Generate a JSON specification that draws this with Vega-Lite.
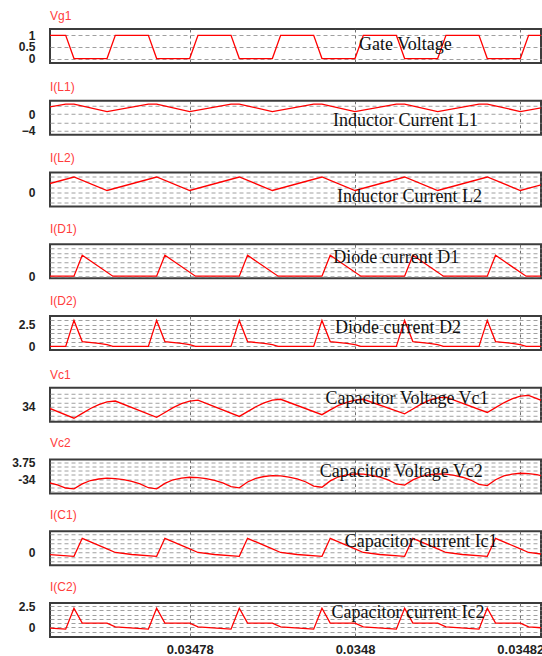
{
  "$schema": "https://vega.github.io/schema/vega-lite/v6.json",
  "background": "#ffffff",
  "padding": {"left": 10, "top": 9, "right": 0, "bottom": 0},
  "bounds": "flush",
  "spacing": 37.75,
  "config": {
    "view": {"stroke": "#3c3c3c", "strokeWidth": 2},
    "title": {"anchor": "start", "frame": "group", "font": "Liberation Sans", "fontSize": 12, "fontWeight": "normal", "color": "#ff3c3c", "offset": 6},
    "axis": {"labelFont": "Liberation Sans", "labelFontSize": 13, "labelFontWeight": "bold", "labelColor": "#222222", "ticks": false, "tickSize": 0, "domain": false, "title": null, "format": "~g", "labelOverlap": false},
    "axisX": {"gridDash": [3, 3], "gridColor": "#6e6e6e", "gridWidth": 1, "labelPadding": 6, "labelFlush": false},
    "axisY": {"gridDash": [4, 3], "gridColor": "#a0a0a0", "gridWidth": 1, "labelPadding": 15, "labelFontSize": 12},
    "text": {"font": "Liberation Serif", "fontSize": 18, "color": "#111111", "align": "center", "baseline": "alphabetic"}
  },
  "datasets": {
    "wave": [
      {"s":"Vg1","t":0.03476,"v":0},{"s":"Vg1","t":0.034761,"v":1},{"s":"Vg1","t":0.034765,"v":1},{"s":"Vg1","t":0.034766,"v":0},
      {"s":"Vg1","t":0.03477,"v":0},{"s":"Vg1","t":0.034771,"v":1},{"s":"Vg1","t":0.034775,"v":1},{"s":"Vg1","t":0.034776,"v":0},
      {"s":"Vg1","t":0.03478,"v":0},{"s":"Vg1","t":0.034781,"v":1},{"s":"Vg1","t":0.034785,"v":1},{"s":"Vg1","t":0.034786,"v":0},
      {"s":"Vg1","t":0.03479,"v":0},{"s":"Vg1","t":0.034791,"v":1},{"s":"Vg1","t":0.034795,"v":1},{"s":"Vg1","t":0.034796,"v":0},
      {"s":"Vg1","t":0.0348,"v":0},{"s":"Vg1","t":0.034801,"v":1},{"s":"Vg1","t":0.034805,"v":1},{"s":"Vg1","t":0.034806,"v":0},
      {"s":"Vg1","t":0.03481,"v":0},{"s":"Vg1","t":0.034811,"v":1},{"s":"Vg1","t":0.034815,"v":1},{"s":"Vg1","t":0.034816,"v":0},
      {"s":"Vg1","t":0.03482,"v":0},{"s":"Vg1","t":0.034821,"v":1},{"s":"Vg1","t":0.034825,"v":1},{"s":"Vg1","t":0.034826,"v":0},
      {"s":"Vg1","t":0.03483,"v":0},

      {"s":"IL1","t":0.03476,"v":0.6},{"s":"IL1","t":0.034765,"v":2.4},{"s":"IL1","t":0.034766,"v":2.4},
      {"s":"IL1","t":0.03477,"v":0.6},{"s":"IL1","t":0.034775,"v":2.4},{"s":"IL1","t":0.034776,"v":2.4},
      {"s":"IL1","t":0.03478,"v":0.6},{"s":"IL1","t":0.034785,"v":2.4},{"s":"IL1","t":0.034786,"v":2.4},
      {"s":"IL1","t":0.03479,"v":0.6},{"s":"IL1","t":0.034795,"v":2.4},{"s":"IL1","t":0.034796,"v":2.4},
      {"s":"IL1","t":0.0348,"v":0.6},{"s":"IL1","t":0.034805,"v":2.4},{"s":"IL1","t":0.034806,"v":2.4},
      {"s":"IL1","t":0.03481,"v":0.6},{"s":"IL1","t":0.034815,"v":2.4},{"s":"IL1","t":0.034816,"v":2.4},
      {"s":"IL1","t":0.03482,"v":0.6},{"s":"IL1","t":0.034825,"v":2.4},{"s":"IL1","t":0.034826,"v":2.4},
      {"s":"IL1","t":0.03483,"v":0.6},

      {"s":"IL2","t":0.03476,"v":0.3},{"s":"IL2","t":0.034766,"v":3.0},
      {"s":"IL2","t":0.03477,"v":0.3},{"s":"IL2","t":0.034776,"v":3.0},
      {"s":"IL2","t":0.03478,"v":0.3},{"s":"IL2","t":0.034786,"v":3.0},
      {"s":"IL2","t":0.03479,"v":0.3},{"s":"IL2","t":0.034796,"v":3.0},
      {"s":"IL2","t":0.0348,"v":0.3},{"s":"IL2","t":0.034806,"v":3.0},
      {"s":"IL2","t":0.03481,"v":0.3},{"s":"IL2","t":0.034816,"v":3.0},
      {"s":"IL2","t":0.03482,"v":0.3},{"s":"IL2","t":0.034826,"v":3.0},
      {"s":"IL2","t":0.03483,"v":0.3},

      {"s":"ID1","t":0.0347607,"v":0},{"s":"ID1","t":0.034766,"v":0},{"s":"ID1","t":0.034767,"v":4.5},
      {"s":"ID1","t":0.0347707,"v":0},{"s":"ID1","t":0.034776,"v":0},{"s":"ID1","t":0.034777,"v":4.5},
      {"s":"ID1","t":0.0347807,"v":0},{"s":"ID1","t":0.034786,"v":0},{"s":"ID1","t":0.034787,"v":4.5},
      {"s":"ID1","t":0.0347907,"v":0},{"s":"ID1","t":0.034796,"v":0},{"s":"ID1","t":0.034797,"v":4.5},
      {"s":"ID1","t":0.0348007,"v":0},{"s":"ID1","t":0.034806,"v":0},{"s":"ID1","t":0.034807,"v":4.5},
      {"s":"ID1","t":0.0348107,"v":0},{"s":"ID1","t":0.034816,"v":0},{"s":"ID1","t":0.034817,"v":4.5},
      {"s":"ID1","t":0.0348207,"v":0},{"s":"ID1","t":0.034826,"v":0},{"s":"ID1","t":0.034827,"v":4.5},
      {"s":"ID1","t":0.0348307,"v":0},

      {"s":"ID2","t":0.03476,"v":0.2},{"s":"ID2","t":0.0347607,"v":0},{"s":"ID2","t":0.034765,"v":0},{"s":"ID2","t":0.034766,"v":3.0},{"s":"ID2","t":0.034767,"v":0.55},{"s":"ID2","t":0.034769,"v":0.35},
      {"s":"ID2","t":0.03477,"v":0.2},{"s":"ID2","t":0.0347707,"v":0},{"s":"ID2","t":0.034775,"v":0},{"s":"ID2","t":0.034776,"v":3.0},{"s":"ID2","t":0.034777,"v":0.55},{"s":"ID2","t":0.034779,"v":0.35},
      {"s":"ID2","t":0.03478,"v":0.2},{"s":"ID2","t":0.0347807,"v":0},{"s":"ID2","t":0.034785,"v":0},{"s":"ID2","t":0.034786,"v":3.0},{"s":"ID2","t":0.034787,"v":0.55},{"s":"ID2","t":0.034789,"v":0.35},
      {"s":"ID2","t":0.03479,"v":0.2},{"s":"ID2","t":0.0347907,"v":0},{"s":"ID2","t":0.034795,"v":0},{"s":"ID2","t":0.034796,"v":3.0},{"s":"ID2","t":0.034797,"v":0.55},{"s":"ID2","t":0.034799,"v":0.35},
      {"s":"ID2","t":0.0348,"v":0.2},{"s":"ID2","t":0.0348007,"v":0},{"s":"ID2","t":0.034805,"v":0},{"s":"ID2","t":0.034806,"v":3.0},{"s":"ID2","t":0.034807,"v":0.55},{"s":"ID2","t":0.034809,"v":0.35},
      {"s":"ID2","t":0.03481,"v":0.2},{"s":"ID2","t":0.0348107,"v":0},{"s":"ID2","t":0.034815,"v":0},{"s":"ID2","t":0.034816,"v":3.0},{"s":"ID2","t":0.034817,"v":0.55},{"s":"ID2","t":0.034819,"v":0.35},
      {"s":"ID2","t":0.03482,"v":0.2},{"s":"ID2","t":0.0348207,"v":0},{"s":"ID2","t":0.034825,"v":0},{"s":"ID2","t":0.034826,"v":3.0},{"s":"ID2","t":0.034827,"v":0.55},{"s":"ID2","t":0.034829,"v":0.35},
      {"s":"ID2","t":0.03483,"v":0.2},

      {"s":"Vc1","t":0.034761,"v":34.12},
      {"s":"Vc1","t":0.034766,"v":33.74},{"s":"Vc1","t":0.034767,"v":33.85},{"s":"Vc1","t":0.034768,"v":33.96},{"s":"Vc1","t":0.034769,"v":34.05},{"s":"Vc1","t":0.03477,"v":34.11},{"s":"Vc1","t":0.034771,"v":34.13},
      {"s":"Vc1","t":0.034776,"v":33.76},{"s":"Vc1","t":0.034777,"v":33.87},{"s":"Vc1","t":0.034778,"v":33.98},{"s":"Vc1","t":0.034779,"v":34.07},{"s":"Vc1","t":0.03478,"v":34.13},{"s":"Vc1","t":0.034781,"v":34.15},
      {"s":"Vc1","t":0.034786,"v":33.78},{"s":"Vc1","t":0.034787,"v":33.89},{"s":"Vc1","t":0.034788,"v":34.0},{"s":"Vc1","t":0.034789,"v":34.09},{"s":"Vc1","t":0.03479,"v":34.15},{"s":"Vc1","t":0.034791,"v":34.17},
      {"s":"Vc1","t":0.034796,"v":33.82},{"s":"Vc1","t":0.034797,"v":33.93},{"s":"Vc1","t":0.034798,"v":34.03},{"s":"Vc1","t":0.034799,"v":34.1},{"s":"Vc1","t":0.0348,"v":34.15},{"s":"Vc1","t":0.034801,"v":34.17},
      {"s":"Vc1","t":0.034806,"v":33.84},{"s":"Vc1","t":0.034807,"v":33.95},{"s":"Vc1","t":0.034808,"v":34.06},{"s":"Vc1","t":0.034809,"v":34.15},{"s":"Vc1","t":0.03481,"v":34.2},{"s":"Vc1","t":0.034811,"v":34.22},
      {"s":"Vc1","t":0.034816,"v":33.87},{"s":"Vc1","t":0.034817,"v":33.98},{"s":"Vc1","t":0.034818,"v":34.09},{"s":"Vc1","t":0.034819,"v":34.18},{"s":"Vc1","t":0.03482,"v":34.24},{"s":"Vc1","t":0.034821,"v":34.26},
      {"s":"Vc1","t":0.034826,"v":33.89},{"s":"Vc1","t":0.034827,"v":34.0},{"s":"Vc1","t":0.034828,"v":34.11},{"s":"Vc1","t":0.034829,"v":34.2},{"s":"Vc1","t":0.03483,"v":34.26},

      {"s":"Vc2","t":0.03476,"v":-34.02},{"s":"Vc2","t":0.034761,"v":-34.024},{"s":"Vc2","t":0.034762,"v":-34.036},{"s":"Vc2","t":0.034763,"v":-34.056},{"s":"Vc2","t":0.034764,"v":-34.086},{"s":"Vc2","t":0.034765,"v":-34.132},
      {"s":"Vc2","t":0.034766,"v":-34.144},{"s":"Vc2","t":0.034767,"v":-34.071},{"s":"Vc2","t":0.034768,"v":-34.022},{"s":"Vc2","t":0.034769,"v":-34.0},
      {"s":"Vc2","t":0.03477,"v":-33.988},{"s":"Vc2","t":0.034771,"v":-33.993},{"s":"Vc2","t":0.034772,"v":-34.008},{"s":"Vc2","t":0.034773,"v":-34.033},{"s":"Vc2","t":0.034774,"v":-34.071},{"s":"Vc2","t":0.034775,"v":-34.128},
      {"s":"Vc2","t":0.034776,"v":-34.144},{"s":"Vc2","t":0.034777,"v":-34.064},{"s":"Vc2","t":0.034778,"v":-34.011},{"s":"Vc2","t":0.034779,"v":-33.988},
      {"s":"Vc2","t":0.03478,"v":-33.974},{"s":"Vc2","t":0.034781,"v":-33.979},{"s":"Vc2","t":0.034782,"v":-33.994},{"s":"Vc2","t":0.034783,"v":-34.019},{"s":"Vc2","t":0.034784,"v":-34.056},{"s":"Vc2","t":0.034785,"v":-34.113},
      {"s":"Vc2","t":0.034786,"v":-34.129},{"s":"Vc2","t":0.034787,"v":-34.044},{"s":"Vc2","t":0.034788,"v":-33.989},{"s":"Vc2","t":0.034789,"v":-33.963},
      {"s":"Vc2","t":0.03479,"v":-33.949},{"s":"Vc2","t":0.034791,"v":-33.954},{"s":"Vc2","t":0.034792,"v":-33.971},{"s":"Vc2","t":0.034793,"v":-33.999},{"s":"Vc2","t":0.034794,"v":-34.04},{"s":"Vc2","t":0.034795,"v":-34.104},
      {"s":"Vc2","t":0.034796,"v":-34.121},{"s":"Vc2","t":0.034797,"v":-34.028},{"s":"Vc2","t":0.034798,"v":-33.967},{"s":"Vc2","t":0.034799,"v":-33.94},
      {"s":"Vc2","t":0.0348,"v":-33.924},{"s":"Vc2","t":0.034801,"v":-33.929},{"s":"Vc2","t":0.034802,"v":-33.946},{"s":"Vc2","t":0.034803,"v":-33.972},{"s":"Vc2","t":0.034804,"v":-34.012},{"s":"Vc2","t":0.034805,"v":-34.073},
      {"s":"Vc2","t":0.034806,"v":-34.09},{"s":"Vc2","t":0.034807,"v":-34.012},{"s":"Vc2","t":0.034808,"v":-33.961},{"s":"Vc2","t":0.034809,"v":-33.937},
      {"s":"Vc2","t":0.03481,"v":-33.924},{"s":"Vc2","t":0.034811,"v":-33.929},{"s":"Vc2","t":0.034812,"v":-33.946},{"s":"Vc2","t":0.034813,"v":-33.974},{"s":"Vc2","t":0.034814,"v":-34.015},{"s":"Vc2","t":0.034815,"v":-34.079},
      {"s":"Vc2","t":0.034816,"v":-34.096},{"s":"Vc2","t":0.034817,"v":-34.011},{"s":"Vc2","t":0.034818,"v":-33.955},{"s":"Vc2","t":0.034819,"v":-33.929},
      {"s":"Vc2","t":0.03482,"v":-33.915},{"s":"Vc2","t":0.034821,"v":-33.92},{"s":"Vc2","t":0.034822,"v":-33.936},{"s":"Vc2","t":0.034823,"v":-33.963},{"s":"Vc2","t":0.034824,"v":-34.002},{"s":"Vc2","t":0.034825,"v":-34.064},
      {"s":"Vc2","t":0.034826,"v":-34.08},{"s":"Vc2","t":0.034827,"v":-34.0},{"s":"Vc2","t":0.034828,"v":-33.95},{"s":"Vc2","t":0.034829,"v":-33.93},{"s":"Vc2","t":0.03483,"v":-33.92},

      {"s":"IC1","t":0.03476,"v":0.74},{"s":"IC1","t":0.034761,"v":-0.05},{"s":"IC1","t":0.034763,"v":-0.5},{"s":"IC1","t":0.034766,"v":-0.9},{"s":"IC1","t":0.034767,"v":3.1},
      {"s":"IC1","t":0.03477,"v":0.74},{"s":"IC1","t":0.034771,"v":-0.05},{"s":"IC1","t":0.034773,"v":-0.5},{"s":"IC1","t":0.034776,"v":-0.9},{"s":"IC1","t":0.034777,"v":3.1},
      {"s":"IC1","t":0.03478,"v":0.74},{"s":"IC1","t":0.034781,"v":-0.05},{"s":"IC1","t":0.034783,"v":-0.5},{"s":"IC1","t":0.034786,"v":-0.9},{"s":"IC1","t":0.034787,"v":3.1},
      {"s":"IC1","t":0.03479,"v":0.74},{"s":"IC1","t":0.034791,"v":-0.05},{"s":"IC1","t":0.034793,"v":-0.5},{"s":"IC1","t":0.034796,"v":-0.9},{"s":"IC1","t":0.034797,"v":3.1},
      {"s":"IC1","t":0.0348,"v":0.74},{"s":"IC1","t":0.034801,"v":-0.05},{"s":"IC1","t":0.034803,"v":-0.5},{"s":"IC1","t":0.034806,"v":-0.9},{"s":"IC1","t":0.034807,"v":3.1},
      {"s":"IC1","t":0.03481,"v":0.74},{"s":"IC1","t":0.034811,"v":-0.05},{"s":"IC1","t":0.034813,"v":-0.5},{"s":"IC1","t":0.034816,"v":-0.9},{"s":"IC1","t":0.034817,"v":3.1},
      {"s":"IC1","t":0.03482,"v":0.74},{"s":"IC1","t":0.034821,"v":-0.05},{"s":"IC1","t":0.034823,"v":-0.5},{"s":"IC1","t":0.034826,"v":-0.9},{"s":"IC1","t":0.034827,"v":3.1},
      {"s":"IC1","t":0.03483,"v":0.74},

      {"s":"IC2","t":0.03476,"v":0.5},{"s":"IC2","t":0.034761,"v":0.05},{"s":"IC2","t":0.034765,"v":-0.22},{"s":"IC2","t":0.034766,"v":2.26},{"s":"IC2","t":0.034767,"v":0.5},
      {"s":"IC2","t":0.03477,"v":0.5},{"s":"IC2","t":0.034771,"v":0.05},{"s":"IC2","t":0.034775,"v":-0.22},{"s":"IC2","t":0.034776,"v":2.26},{"s":"IC2","t":0.034777,"v":0.5},
      {"s":"IC2","t":0.03478,"v":0.5},{"s":"IC2","t":0.034781,"v":0.05},{"s":"IC2","t":0.034785,"v":-0.22},{"s":"IC2","t":0.034786,"v":2.26},{"s":"IC2","t":0.034787,"v":0.5},
      {"s":"IC2","t":0.03479,"v":0.5},{"s":"IC2","t":0.034791,"v":0.05},{"s":"IC2","t":0.034795,"v":-0.22},{"s":"IC2","t":0.034796,"v":2.26},{"s":"IC2","t":0.034797,"v":0.5},
      {"s":"IC2","t":0.0348,"v":0.5},{"s":"IC2","t":0.034801,"v":0.05},{"s":"IC2","t":0.034805,"v":-0.22},{"s":"IC2","t":0.034806,"v":2.26},{"s":"IC2","t":0.034807,"v":0.5},
      {"s":"IC2","t":0.03481,"v":0.5},{"s":"IC2","t":0.034811,"v":0.05},{"s":"IC2","t":0.034815,"v":-0.22},{"s":"IC2","t":0.034816,"v":2.26},{"s":"IC2","t":0.034817,"v":0.5},
      {"s":"IC2","t":0.03482,"v":0.5},{"s":"IC2","t":0.034821,"v":0.05},{"s":"IC2","t":0.034825,"v":-0.22},{"s":"IC2","t":0.034826,"v":2.26},{"s":"IC2","t":0.034827,"v":0.5},
      {"s":"IC2","t":0.03483,"v":0.5}
    ],
    "tags": [
      {"p":"Vg1","t":0.0348061,"v":0.37,"label":"Gate Voltage"},
      {"p":"IL1","t":0.0348061,"v":-2.8,"label":"Inductor Current L1"},
      {"p":"IL2","t":0.0348066,"v":-1.9,"label":"Inductor Current L2"},
      {"p":"ID1","t":0.034805,"v":2.9,"label":"Diode current D1"},
      {"p":"ID2","t":0.0348052,"v":1.6,"label":"Diode current D2"},
      {"p":"Vc1","t":0.0348063,"v":34.068,"label":"Capacitor Voltage Vc1"},
      {"p":"Vc2","t":0.0348056,"v":-33.963,"label":"Capacitor Voltage Vc2"},
      {"p":"IC1","t":0.034808,"v":1.11,"label":"Capacitor current Ic1"},
      {"p":"IC2","t":0.0348064,"v":1.11,"label":"Capacitor current Ic2"}
    ]
  },
  "vconcat": [
    {
      "title": "Vg1", "width": 491, "height": 34,
      "encoding": {
        "x": {"field": "t", "type": "quantitative", "scale": {"domain": [0.0347631, 0.0348225], "nice": false, "zero": false}, "axis": {"values": [0.03478, 0.0348, 0.03482], "labels": false, "grid": true}},
        "y": {"field": "v", "type": "quantitative", "scale": {"domain": [-0.19, 1.27], "nice": false, "zero": false}, "axis": {"values": [0, 0.5, 1], "grid": true}}
      },
      "layer": [
        {"data": {"name": "wave"}, "transform": [{"filter": "datum.s === 'Vg1'"}], "mark": {"type": "line", "color": "#ff0000", "strokeWidth": 1.3, "clip": true}},
        {"data": {"name": "tags"}, "transform": [{"filter": "datum.p === 'Vg1'"}], "mark": "text", "encoding": {"text": {"field": "label"}}}
      ]
    },
    {
      "title": "I(L1)", "width": 491, "height": 34,
      "encoding": {
        "x": {"field": "t", "type": "quantitative", "scale": {"domain": [0.0347631, 0.0348225], "nice": false, "zero": false}, "axis": {"values": [0.03478, 0.0348, 0.03482], "labels": false, "grid": true}},
        "y": {"field": "v", "type": "quantitative", "scale": {"domain": [-4.96, 3.19], "nice": false, "zero": false}, "axis": {"values": [-4, -2, 0, 2], "grid": true, "labelExpr": "datum.value === 0 || datum.value === -4 ? datum.label : ''"}}
      },
      "layer": [
        {"data": {"name": "wave"}, "transform": [{"filter": "datum.s === 'IL1'"}], "mark": {"type": "line", "color": "#ff0000", "strokeWidth": 1.3, "clip": true}},
        {"data": {"name": "tags"}, "transform": [{"filter": "datum.p === 'IL1'"}], "mark": "text", "encoding": {"text": {"field": "label"}}}
      ]
    },
    {
      "title": "I(L2)", "width": 491, "height": 34,
      "encoding": {
        "x": {"field": "t", "type": "quantitative", "scale": {"domain": [0.0347631, 0.0348225], "nice": false, "zero": false}, "axis": {"values": [0.03478, 0.0348, 0.03482], "labels": false, "grid": true}},
        "y": {"field": "v", "type": "quantitative", "scale": {"domain": [-2.9, 3.9], "nice": false, "zero": false}, "axis": {"values": [-2, -1, 0, 1, 2, 3], "grid": true, "labelExpr": "datum.value === 0 ? datum.label : ''"}}
      },
      "layer": [
        {"data": {"name": "wave"}, "transform": [{"filter": "datum.s === 'IL2'"}], "mark": {"type": "line", "color": "#ff0000", "strokeWidth": 1.3, "clip": true}},
        {"data": {"name": "tags"}, "transform": [{"filter": "datum.p === 'IL2'"}], "mark": "text", "encoding": {"text": {"field": "label"}}}
      ]
    },
    {
      "title": "I(D1)", "width": 491, "height": 34,
      "encoding": {
        "x": {"field": "t", "type": "quantitative", "scale": {"domain": [0.0347631, 0.0348225], "nice": false, "zero": false}, "axis": {"values": [0.03478, 0.0348, 0.03482], "labels": false, "grid": true}},
        "y": {"field": "v", "type": "quantitative", "scale": {"domain": [-0.44, 6.89], "nice": false, "zero": false}, "axis": {"values": [0, 1, 2, 3, 4, 5, 6], "grid": true, "labelExpr": "datum.value === 0 ? datum.label : ''"}}
      },
      "layer": [
        {"data": {"name": "wave"}, "transform": [{"filter": "datum.s === 'ID1'"}], "mark": {"type": "line", "color": "#ff0000", "strokeWidth": 1.3, "clip": true}},
        {"data": {"name": "tags"}, "transform": [{"filter": "datum.p === 'ID1'"}], "mark": "text", "encoding": {"text": {"field": "label"}}}
      ]
    },
    {
      "title": "I(D2)", "width": 491, "height": 34,
      "encoding": {
        "x": {"field": "t", "type": "quantitative", "scale": {"domain": [0.0347631, 0.0348225], "nice": false, "zero": false}, "axis": {"values": [0.03478, 0.0348, 0.03482], "labels": false, "grid": true}},
        "y": {"field": "v", "type": "quantitative", "scale": {"domain": [-0.42, 3.51], "nice": false, "zero": false}, "axis": {"values": [0, 0.5, 1, 1.5, 2, 2.5, 3], "grid": true, "labelExpr": "datum.value === 0 || datum.value === 2.5 ? datum.label : ''"}}
      },
      "layer": [
        {"data": {"name": "wave"}, "transform": [{"filter": "datum.s === 'ID2'"}], "mark": {"type": "line", "color": "#ff0000", "strokeWidth": 1.3, "clip": true}},
        {"data": {"name": "tags"}, "transform": [{"filter": "datum.p === 'ID2'"}], "mark": "text", "encoding": {"text": {"field": "label"}}}
      ]
    },
    {
      "title": "Vc1", "width": 491, "height": 34,
      "encoding": {
        "x": {"field": "t", "type": "quantitative", "scale": {"domain": [0.0347631, 0.0348225], "nice": false, "zero": false}, "axis": {"values": [0.03478, 0.0348, 0.03482], "labels": false, "grid": true}},
        "y": {"field": "v", "type": "quantitative", "scale": {"domain": [33.659, 34.432], "nice": false, "zero": false}, "axis": {"values": [33.7, 33.8, 33.9, 34, 34.1, 34.2, 34.3], "grid": true, "labelExpr": "datum.value === 34 ? '34' : ''"}}
      },
      "layer": [
        {"data": {"name": "wave"}, "transform": [{"filter": "datum.s === 'Vc1'"}], "mark": {"type": "line", "color": "#ff0000", "strokeWidth": 1.3, "clip": true}},
        {"data": {"name": "tags"}, "transform": [{"filter": "datum.p === 'Vc1'"}], "mark": "text", "encoding": {"text": {"field": "label"}}}
      ]
    },
    {
      "title": "Vc2", "width": 491, "height": 34,
      "encoding": {
        "x": {"field": "t", "type": "quantitative", "scale": {"domain": [0.0347631, 0.0348225], "nice": false, "zero": false}, "axis": {"values": [0.03478, 0.0348, 0.03482], "labels": false, "grid": true}},
        "y": {"field": "v", "type": "quantitative", "scale": {"domain": [-34.213, -33.713], "nice": false, "zero": false}, "axis": {"values": [-34.1875, -34.125, -34.0625, -34, -33.9375, -33.875, -33.8125, -33.75], "grid": true, "labelExpr": "datum.value === -34 ? '-34' : datum.value === -33.75 ? '3.75' : ''"}}
      },
      "layer": [
        {"data": {"name": "wave"}, "transform": [{"filter": "datum.s === 'Vc2'"}], "mark": {"type": "line", "color": "#ff0000", "strokeWidth": 1.3, "clip": true}},
        {"data": {"name": "tags"}, "transform": [{"filter": "datum.p === 'Vc2'"}], "mark": "text", "encoding": {"text": {"field": "label"}}}
      ]
    },
    {
      "title": "I(C1)", "width": 491, "height": 34,
      "encoding": {
        "x": {"field": "t", "type": "quantitative", "scale": {"domain": [0.0347631, 0.0348225], "nice": false, "zero": false}, "axis": {"values": [0.03478, 0.0348, 0.03482], "labels": false, "grid": true}},
        "y": {"field": "v", "type": "quantitative", "scale": {"domain": [-2.89, 4.67], "nice": false, "zero": false}, "axis": {"values": [-2, -1, 0, 1, 2, 3, 4], "grid": true, "labelExpr": "datum.value === 0 ? datum.label : ''"}}
      },
      "layer": [
        {"data": {"name": "wave"}, "transform": [{"filter": "datum.s === 'IC1'"}], "mark": {"type": "line", "color": "#ff0000", "strokeWidth": 1.3, "clip": true}},
        {"data": {"name": "tags"}, "transform": [{"filter": "datum.p === 'IC1'"}], "mark": "text", "encoding": {"text": {"field": "label"}}}
      ]
    },
    {
      "title": "I(C2)", "width": 491, "height": 34,
      "encoding": {
        "x": {"field": "t", "type": "quantitative", "scale": {"domain": [0.0347631, 0.0348225], "nice": false, "zero": false}, "axis": {"values": [0.03478, 0.0348, 0.03482], "labels": true, "format": ".5~f", "grid": true}},
        "y": {"field": "v", "type": "quantitative", "scale": {"domain": [-1.15, 2.89], "nice": false, "zero": false}, "axis": {"values": [-0.5, 0, 0.5, 1, 1.5, 2, 2.5], "grid": true, "labelExpr": "datum.value === 0 || datum.value === 2.5 ? datum.label : ''"}}
      },
      "layer": [
        {"data": {"name": "wave"}, "transform": [{"filter": "datum.s === 'IC2'"}], "mark": {"type": "line", "color": "#ff0000", "strokeWidth": 1.3, "clip": true}},
        {"data": {"name": "tags"}, "transform": [{"filter": "datum.p === 'IC2'"}], "mark": "text", "encoding": {"text": {"field": "label"}}}
      ]
    }
  ]
}
